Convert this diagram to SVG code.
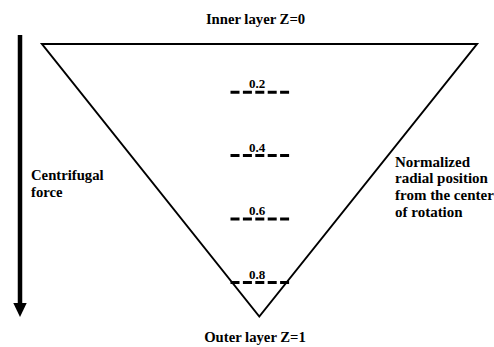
<svg xmlns="http://www.w3.org/2000/svg" width="494" height="347" viewBox="0 0 494 347">
<style>
.lbl{font-family:'Liberation Serif','Times New Roman',Times,serif;font-weight:700;fill:#000}
.t{font-size:14.7px}
.r{font-size:15px}
.n{font-size:13px;text-anchor:middle}
.c{text-anchor:middle}
.dash{stroke:#000;stroke-width:3;stroke-dasharray:9 3.4;fill:none}
</style>
<rect width="494" height="347" fill="#fff"/>
<g id="triangle">
<polygon points="42,44 477,44 259.3,316.5" fill="none" stroke="#000" stroke-width="2" stroke-linejoin="miter"/>
</g>
<g id="levels" font-family="Liberation Serif, Times New Roman, serif" font-weight="bold">
<g id="z02"><line class="dash" x1="230.5" y1="92.3" x2="289.5" y2="92.3"/><text class="lbl n" x="257" y="88">0.2</text></g>
<g id="z04"><line class="dash" x1="230.5" y1="155.5" x2="289.5" y2="155.5"/><text class="lbl n" x="257" y="151.5">0.4</text></g>
<g id="z06"><line class="dash" x1="230.5" y1="219" x2="289.5" y2="219"/><text class="lbl n" x="257" y="215">0.6</text></g>
<g id="z08"><line class="dash" x1="230.5" y1="282.5" x2="289.5" y2="282.5"/><text class="lbl n" x="257" y="278.5">0.8</text></g>
</g>
<g id="connectors">
<line x1="20" y1="35" x2="20" y2="304" stroke="#000" stroke-width="4.5"/>
<polygon points="13.3,303 26.7,303 20,317" fill="#000"/>
</g>
<g id="labels" font-family="Liberation Serif, Times New Roman, serif" font-weight="bold">
<text class="lbl t c" x="255.5" y="23.5">Inner layer Z=0</text>
<text class="lbl t c" x="255" y="342">Outer layer Z=1</text>
<text class="lbl t" x="31" y="179.5">Centrifugal</text>
<text class="lbl t" x="31" y="196.8">force</text>
<text class="lbl r" x="395" y="166.5">Normalized</text>
<text class="lbl r" x="395" y="183.2">radial position</text>
<text class="lbl r" x="395" y="199.9">from the center</text>
<text class="lbl r" x="395" y="216.6">of rotation</text>
</g>
</svg>
